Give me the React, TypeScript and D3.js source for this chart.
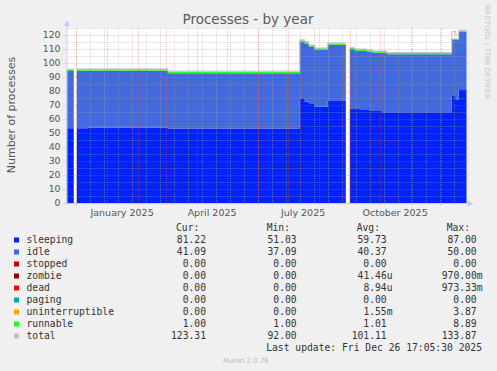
import React from "react";
import * as d3 from "d3";

// step segments (segment start dates, UTC)
const segmentStarts = [
  "2024-11-22", "2024-11-29", "2024-12-02", "2024-12-13", "2025-03-03",
  "2025-07-13", "2025-07-18", "2025-07-22", "2025-07-28", "2025-08-10",
  "2025-08-28", "2025-09-01", "2025-09-06", "2025-09-11", "2025-09-18",
  "2025-09-21", "2025-09-24", "2025-10-03", "2025-10-08", "2025-12-12",
  "2025-12-16", "2025-12-19",
];
const lastUpdate = "2025-12-26T17:05:30Z";

const sleeping = [
  53.4, null, 53.4, 53.8, 53.3, 74.8, 72.4, 71.2, 68.8, 72.9, null, 67.1,
  67.1, 66.4, 66.4, 65.7, 65.7, 64.8, 64.8, 76.5, 73.5, 81.2,
];
const idle = [
  40.9, null, 41.1, 40.7, 39.3, 40.5, 41.6, 40.5, 40.7, 40.1, null, 42.7,
  41.7, 42.4, 41.7, 42.4, 41.7, 42.6, 41.4, 39.9, 42.9, 41.1,
];
const runnable = [
  1.0, null, 1.0, 1.0, 1.0, 1.0, 1.0, 1.0, 1.0, 1.0, null, 1.0,
  1.0, 1.0, 1.0, 1.0, 1.0, 1.0, 1.0, 1.0, 1.0, 1.0,
];
const total = [
  95.6, null, 95.8, 95.8, 94.1, 116.6, 115.2, 112.9, 110.7, 114.2, null, 111.0,
  110.0, 110.0, 109.3, 109.3, 108.6, 108.6, 107.4, 122.4, 120.0, 123.5,
];

const legendNames = [
  "sleeping", "idle", "stopped", "zombie", "dead", "paging",
  "uninterruptible", "runnable", "total",
];
const legendColors = [
  "#0022ff", "#4169e1", "#cc0000", "#990000", "#ff0000", "#00aaaa",
  "#ffa500", "#22ff22", "#c0c0c0",
];
const curValues = ["81.22", "41.09", "0.00", "0.00", "0.00", "0.00", "0.00", "1.00", "123.31"];
const minValues = ["51.03", "37.09", "0.00", "0.00", "0.00", "0.00", "0.00", "1.00", "92.00"];
const avgValues = ["59.73", "40.37", "0.00", "41.46u", "8.94u", "0.00", "1.55m", "1.01", "101.11"];
const maxValues = ["87.00", "50.00", "0.00", "970.00m", "973.33m", "0.00", "3.87", "8.89", "133.87"];

const yTicks = [0, 10, 20, 30, 40, 50, 60, 70, 80, 90, 100, 110, 120];

type Pt = { t: Date; y0: number | null; y1: number | null };

const App: React.FC = () => {
  const end = new Date(lastUpdate);
  const start = new Date(+end - 400 * 864e5);
  const starts = segmentStarts.map((s) => {
    const d = new Date(s + "T00:00:00Z");
    return d < start ? start : d;
  });
  const ends = starts.map((_, i) => (i < starts.length - 1 ? starts[i + 1] : end));

  const margin = { left: 66.5, right: 466.5, top: 28, bottom: 203 };
  const x = d3.scaleUtc().domain([start, end]).range([margin.left, margin.right]);
  const y = d3.scaleLinear().domain([0, 125]).range([margin.bottom, margin.top]);

  // stacked layers
  const layers = [
    { name: "sleeping", color: legendColors[0], values: sleeping },
    { name: "idle", color: legendColors[1], values: idle },
    { name: "runnable", color: legendColors[7], values: runnable },
  ];
  const base = starts.map(() => 0);
  const stacked = layers.map((layer) => {
    const pts: Pt[] = [];
    layer.values.forEach((v, i) => {
      if (v == null) {
        pts.push({ t: starts[i], y0: null, y1: null });
        return;
      }
      const y0 = base[i];
      const y1 = y0 + v;
      base[i] = y1;
      pts.push({ t: starts[i], y0, y1 }, { t: ends[i], y0, y1 });
    });
    return { ...layer, pts };
  });

  const area = d3
    .area<Pt>()
    .defined((p) => p.y1 != null)
    .x((p) => x(p.t))
    .y0((p) => y(p.y0 as number))
    .y1((p) => y(p.y1 as number));

  const totalPts: Pt[] = [];
  total.forEach((v, i) => {
    if (v == null) totalPts.push({ t: starts[i], y0: null, y1: null });
    else totalPts.push({ t: starts[i], y0: 0, y1: v }, { t: ends[i], y0: 0, y1: v });
  });
  const line = d3
    .line<Pt>()
    .defined((p) => p.y1 != null)
    .x((p) => x(p.t))
    .y((p) => y(p.y1 as number));

  // grid
  const months = d3.utcMonth.range(start, end);
  const dec1 = new Date(Date.UTC(2024, 11, 1));
  const minorDays = d3.utcSunday
    .range(start, end)
    .filter((d) => Math.round((+d - +dec1) / (7 * 864e5)) % 2 === 0);
  const labelMonths = d3.utcMonth.every(3)!.range(start, end);
  const fmt = d3.utcFormat("%B %Y");
  const minorY = d3.range(5, 126, 10);
  const majorY = d3.range(10, 121, 10);

  const gridColor = "rgba(170,170,170,0.45)";
  const mgridColor = "rgba(235,90,90,0.38)";
  const axisColor = "#c4cbef";

  const mono = "'DejaVu Sans Mono', monospace";
  const sans = "'DejaVu Sans', sans-serif";
  const rowY = (i: number) => 242.5 + 12 * i;
  const cw = 5.85;
  const cols = [206, 296.7, 386.7, 476.7];
  const colVals = [curValues, minValues, avgValues, maxValues];
  const headers = ["Cur:", "Min:", "Avg:", "Max:"];
  const headerX = [176, 266.7, 356.7, 446.7];

  return (
    <svg
      width={497}
      height={371}
      style={{ position: "absolute", left: 0, top: 0 }}
    >
      <rect x={0} y={0} width={497} height={371} fill="#f0f0f0" />
      <rect
        x={margin.left}
        y={margin.top}
        width={margin.right - margin.left}
        height={margin.bottom - margin.top}
        fill="#ffffff"
      />

      {/* title */}
      <text x={248} y={24} textAnchor="middle" fontFamily={sans} fontSize={13.5} fill="#5a5a5a">
        Processes - by year
      </text>

      {/* vertical label */}
      <text
        transform="translate(15,115) rotate(-90)"
        textAnchor="middle"
        fontFamily={sans}
        fontSize={11}
        fill="#555"
      >
        Number of processes
      </text>

      <text
        transform="translate(485,5) rotate(90)"
        fontFamily={sans}
        fontSize={7.3}
        fill="#c8c8c8"
      >
        RRDTOOL / TOBI OETIKER
      </text>

      {/* areas */}
      {stacked.map((l) => (
        <path key={l.name} d={area(l.pts) || ""} fill={l.color} />
      ))}
      <path d={line(totalPts) || ""} fill="none" stroke="#c0c0c0" strokeWidth={1} />

      {/* grid */}
      <g strokeDasharray="1,1" strokeWidth={1}>
        {minorY.map((v) => (
          <line key={"my" + v} x1={margin.left} x2={margin.right} y1={Math.round(y(v)) + 0.5} y2={Math.round(y(v)) + 0.5} stroke={gridColor} />
        ))}
        {minorDays.map((d) => (
          <line key={"mx" + +d} x1={Math.round(x(d)) + 0.5} x2={Math.round(x(d)) + 0.5} y1={margin.top} y2={margin.bottom + 3} stroke={gridColor} />
        ))}
        {majorY.map((v) => (
          <line key={"My" + v} x1={margin.left - 3} x2={margin.right + 2} y1={Math.round(y(v)) + 0.5} y2={Math.round(y(v)) + 0.5} stroke={mgridColor} />
        ))}
        {months.map((d) => (
          <line key={"Mx" + +d} x1={Math.round(x(d)) + 0.5} x2={Math.round(x(d)) + 0.5} y1={margin.top} y2={margin.bottom + 3} stroke={mgridColor} />
        ))}
      </g>

      {/* axes */}
      <line x1={margin.left + 0.5} x2={margin.left + 0.5} y1={margin.bottom + 2} y2={23} stroke={axisColor} />
      <path d={`M${margin.left - 2.5},26 L${margin.left + 0.5},20 L${margin.left + 3.5},26 Z`} fill={axisColor} />
      <line x1={margin.left - 3} x2={margin.right + 3} y1={margin.bottom + 0.5} y2={margin.bottom + 0.5} stroke={axisColor} />
      <path d={`M${margin.right + 1},${margin.bottom - 2.5} L${margin.right + 7},${margin.bottom + 0.5} L${margin.right + 1},${margin.bottom + 3.5} Z`} fill={axisColor} />

      {/* y tick labels */}
      {yTicks.map((v) => (
        <text key={"yl" + v} x={60.5} y={y(v) + 3.3} textAnchor="end" fontFamily={sans} fontSize={9.3} fill="#555">
          {v}
        </text>
      ))}

      {/* x tick labels */}
      {labelMonths.map((d) => (
        <text key={"xl" + +d} x={x(new Date(+d + 15.3 * 864e5))} y={215.5} textAnchor="middle" fontFamily={sans} fontSize={9.5} fill="#555">
          {fmt(d)}
        </text>
      ))}

      {/* legend */}
      {headers.map((h, i) => (
        <text key={h} x={headerX[i]} y={230.5} fontFamily={mono} fontSize={9.7} fill="#333">
          {h}
        </text>
      ))}
      {legendNames.map((name, i) => (
        <g key={name}>
          <rect x={14} y={rowY(i) - 5} width={5} height={5} fill={legendColors[i]} />
          <text x={26.5} y={rowY(i)} fontFamily={mono} fontSize={9.7} fill="#333">
            {name}
          </text>
          {colVals.map((vals, c) => {
            const s = vals[i];
            const hasSuffix = /[a-z]$/.test(s);
            return (
              <text key={c} x={cols[c] + (hasSuffix ? cw : 0)} y={rowY(i)} textAnchor="end" fontFamily={mono} fontSize={9.7} fill="#333">
                {s}
              </text>
            );
          })}
        </g>
      ))}
      <text x={482} y={350.5} textAnchor="end" fontFamily={mono} fontSize={9.7} fill="#333">
        Last update: Fri Dec 26 17:05:30 2025
      </text>
      <text x={223} y={362.5} fontFamily={sans} fontSize={7} fill="#bbb">
        Munin 2.0.76
      </text>
    </svg>
  );
};

export default App;
